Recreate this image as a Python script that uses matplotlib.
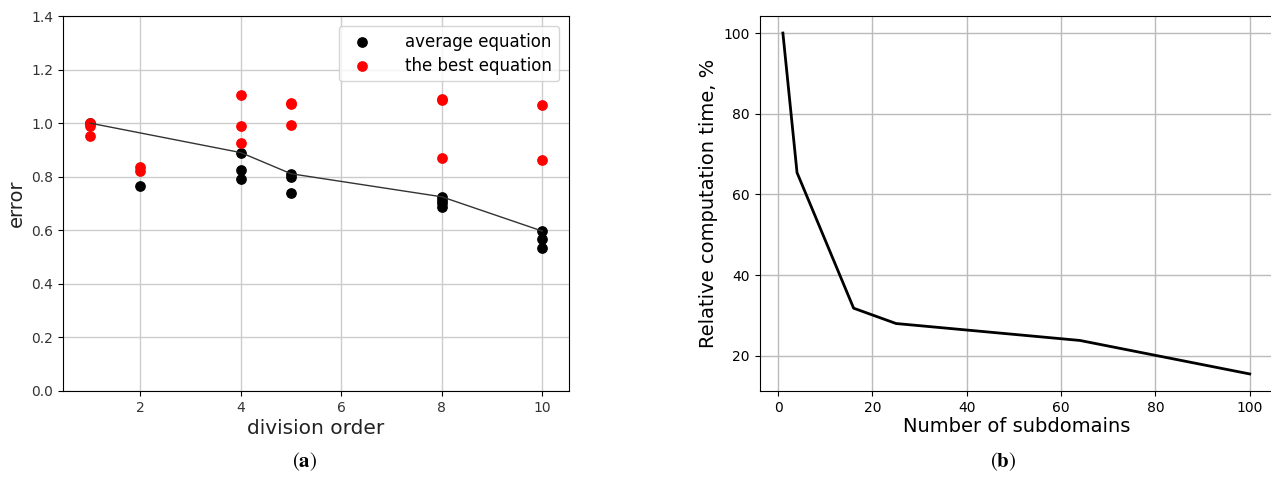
import matplotlib
matplotlib.use("Agg")
import matplotlib.pyplot as plt

# panel (a): error vs division order
avg_x = [1, 2, 4, 4, 4, 5, 5, 5, 8, 8, 8, 8, 10, 10, 10]
avg_y = [1.0, 0.766, 0.89, 0.826, 0.791, 0.811, 0.80, 0.74,
         0.725, 0.713, 0.70, 0.688, 0.597, 0.567, 0.533]
best_x = [1, 1, 1, 2, 2, 4, 4, 4, 5, 5, 5, 8, 8, 8, 10, 10]
best_y = [1.0, 0.99, 0.953, 0.836, 0.82, 1.105, 0.989, 0.924,
          1.076, 1.07, 0.994, 1.092, 1.086, 0.87, 1.068, 0.861]
mean_x = [1, 4, 5, 8, 10]
mean_y = [1.0, 0.89, 0.811, 0.725, 0.597]

# panel (b): relative computation time
subdomains = [1, 4, 16, 25, 64, 100]
rel_time = [100, 65.4, 31.8, 28.0, 23.8, 15.5]

fig = plt.figure(figsize=(12.71, 4.97), dpi=100)
plt.rcParams["mathtext.fontset"] = "stix"

ax1 = fig.add_axes([0.0496, 0.2133, 0.398, 0.7545])
ax1.scatter(avg_x, avg_y, s=45, color="black", label="average equation", zorder=3)
ax1.scatter(best_x, best_y, s=45, color="red", label="the best equation", zorder=3)
ax1.plot(mean_x, mean_y, color="#333333", lw=1, zorder=4)
ax1.set_xlim(0.46, 10.53)
ax1.set_ylim(0, 1.4)
ax1.grid(True, color="#cccccc", lw=1)
ax1.set_axisbelow(True)
ax1.tick_params(labelsize=10, labelcolor="#333333")
ax1.set_xlabel("division order", fontsize=14.5, color="#222222", labelpad=3)
ax1.set_ylabel("error", fontsize=14, color="#222222")
ax1.legend(loc="upper right", fontsize=12, handletextpad=1.6, labelspacing=0.35,
           borderaxespad=0.6)

ax2 = fig.add_axes([0.5976, 0.2133, 0.404, 0.7545])
ax2.plot(subdomains, rel_time, color="black", lw=2)
ax2.grid(True, color="#bbbbbb", lw=1)
ax2.set_axisbelow(True)
ax2.tick_params(labelsize=10)
ax2.set_xlabel("Number of subdomains", fontsize=14, labelpad=2)
ax2.set_ylabel("Relative computation time, %", fontsize=14)

fig.text(0.24, 0.072, r"$(\mathbf{a})$", fontsize=15, ha="center", va="center")
fig.text(0.789, 0.072, r"$(\mathbf{b})$", fontsize=15, ha="center", va="center")

fig.savefig("out.png", dpi=100)
